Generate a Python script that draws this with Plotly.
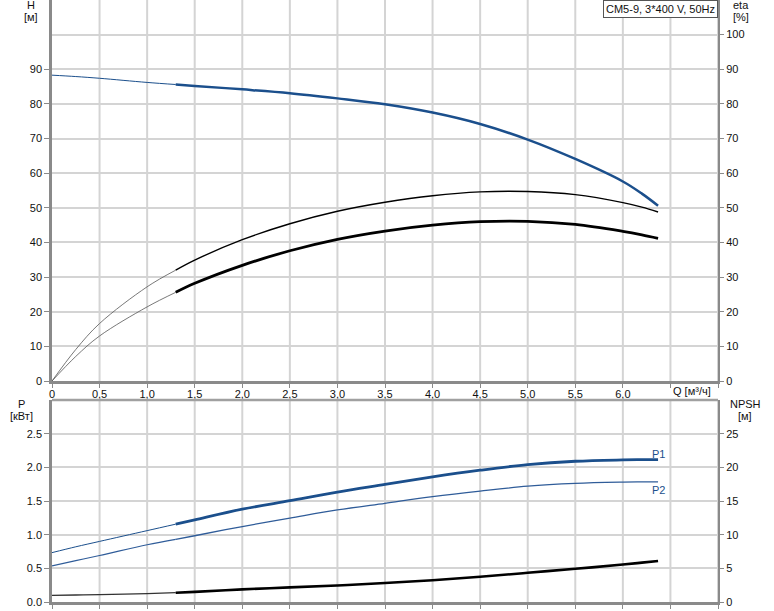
import plotly.graph_objects as go

# ---- data ----
Q = [0, 0.25, 0.5, 1.0, 1.3, 1.5, 2.0, 2.5, 3.0, 3.5, 4.0, 4.5, 5.0, 5.5, 6.0, 6.2, 6.37]
H = [88.3, 87.9, 87.4, 86.2, 85.6, 85.2, 84.2, 83.1, 81.6, 79.9, 77.5, 74.2, 69.7, 64.1, 57.6, 54.1, 50.6]
ETA_UP = [0, 9.1, 16.6, 27.2, 32.0, 34.9, 40.8, 45.4, 49.0, 51.6, 53.5, 54.6, 54.7, 53.8, 51.5, 50.2, 48.8]
ETA_LO = [0, 7.1, 13.0, 21.4, 25.6, 28.2, 33.4, 37.6, 40.9, 43.3, 45.0, 46.0, 46.1, 45.2, 43.2, 42.2, 41.2]
P1 = [0.733, 0.82, 0.90, 1.06, 1.156, 1.22, 1.378, 1.505, 1.633, 1.746, 1.858, 1.957, 2.04, 2.09, 2.11, 2.114, 2.115]
P2 = [0.537, 0.615, 0.69, 0.851, 0.93, 0.984, 1.121, 1.245, 1.367, 1.466, 1.564, 1.647, 1.72, 1.761, 1.78, 1.784, 1.785]
NPSH = [0.99, 1.04, 1.1, 1.25, 1.38, 1.5, 1.87, 2.17, 2.45, 2.82, 3.24, 3.74, 4.34, 4.93, 5.56, 5.85, 6.1]
SPLIT = 4  # index of Q = 1.3 where the curves become bold

Q_TICKS = [0, 0.5, 1.0, 1.5, 2.0, 2.5, 3.0, 3.5, 4.0, 4.5, 5.0, 5.5, 6.0, 6.5, 7.0]
Q_LABELS = ["0", "0,5", "1,0", "1,5", "2,0", "2,5", "3,0", "3,5", "4,0", "4,5", "5,0", "5,5", "6,0", "", ""]
H_TICKS = [0, 10, 20, 30, 40, 50, 60, 70, 80, 90]
ETA_TICKS = [0, 10, 20, 30, 40, 50, 60, 70, 80, 90, 100]
P_TICKS = [0, 0.5, 1.0, 1.5, 2.0, 2.5]
NPSH_TICKS = [0, 5, 10, 15, 20, 25]
TITLE_BOX = "CM5-9, 3*400 V, 50Hz"

BLUE = "#1b4f8c"
BLUE2 = "#2f5c99"
BLACK = "#000000"
GRID = "#d4d4d4"
AXIS = "#8a8a8a"
FONT = dict(family="Liberation Sans, Arial, sans-serif", size=11, color="#111111")

W, H_PX = 774, 611
ML, MR, MT, MB = 52, 56, 0, 9
PW, PH = W - ML - MR, H_PX - MT - MB


def pp(x, y):
    return (x - ML) / PW, 1 - (y - MT) / PH


fig = go.Figure()


def add_curve(y, xa, ya, color, thin_w, thick_w, thin_color=None):
    fig.add_trace(go.Scatter(x=Q[:SPLIT + 1], y=y[:SPLIT + 1], xaxis=xa, yaxis=ya, mode="lines",
                             line=dict(color=thin_color or color, width=thin_w, shape="spline", smoothing=1.0),
                             hoverinfo="skip"))
    fig.add_trace(go.Scatter(x=Q[SPLIT:], y=y[SPLIT:], xaxis=xa, yaxis=ya, mode="lines",
                             line=dict(color=color, width=thick_w, shape="spline", smoothing=1.0),
                             hoverinfo="skip"))


add_curve(H, "x", "y", BLUE, 1, 2.5)
add_curve(ETA_UP, "x", "y2", BLACK, 0.8, 1.4, "#555555")
add_curve(ETA_LO, "x", "y2", BLACK, 0.8, 2.8, "#555555")
add_curve(P1, "x2", "y3", BLUE, 1, 2.8)
add_curve(P2, "x2", "y3", BLUE2, 1.1, 1.3)
add_curve(NPSH, "x2", "y4", BLACK, 1.3, 2.6, "#333333")

top_dom = [pp(0, 381)[1], 1]
bot_dom = [0, pp(0, 400)[1]]

xcommon = dict(range=[0, 7], tickvals=Q_TICKS, showgrid=False,
               zeroline=False, showline=True, linecolor=AXIS, linewidth=2.5, automargin=False,
               ticks="outside", ticklen=4, tickcolor=AXIS, tickfont=FONT)
ycommon = dict(zeroline=False, showline=True, linecolor=AXIS, ticks="outside", tickcolor=AXIS,
               tickfont=FONT, automargin=False)

fig.update_layout(
    width=W, height=H_PX,
    margin=dict(l=ML, r=MR, t=MT, b=MB, autoexpand=False),
    paper_bgcolor="white", plot_bgcolor="white",
    showlegend=False, font=FONT,
    xaxis=dict(**xcommon, domain=[0, 1], anchor="y", ticktext=Q_LABELS, ticklabelstandoff=-3),
    yaxis=dict(**ycommon, domain=top_dom, anchor="x", range=[0, 110], tickvals=H_TICKS,
               showgrid=True, gridcolor=GRID, gridwidth=2, linewidth=2.5, ticklen=5,
               minor=dict(tickvals=[100], showgrid=True, gridcolor=GRID, gridwidth=2, ticks="")),
    yaxis2=dict(**ycommon, domain=top_dom, overlaying="y", side="right", anchor="x", range=[0, 110],
                tickvals=ETA_TICKS, showgrid=False, linewidth=2, ticklen=4),
    xaxis2=dict(**xcommon, domain=[0, 1], anchor="y3", showticklabels=False),
    yaxis3=dict(**ycommon, domain=bot_dom, anchor="x2", range=[0, 3], tickvals=P_TICKS, tickformat=".1f",
                showgrid=True, gridcolor=GRID, gridwidth=2, linewidth=2.5, ticklen=5),
    yaxis4=dict(**ycommon, domain=bot_dom, overlaying="y3", side="right", anchor="x2", range=[0, 30],
                tickvals=NPSH_TICKS, showgrid=False, linewidth=2, ticklen=4),
)

# vertical grid lines, placed through each panel's own x scale and clipped to its domain
for qv in Q_TICKS[1:]:
    fig.add_shape(type="line", xref="x", yref="y domain", x0=qv, x1=qv, y0=0, y1=1,
                  line=dict(color=GRID, width=2), layer="below")
    fig.add_shape(type="line", xref="x2", yref="y3 domain", x0=qv, x1=qv, y0=0, y1=1,
                  line=dict(color=GRID, width=2), layer="below")
# top frame of the lower panel
fig.add_shape(type="line", xref="x2 domain", yref="y3 domain", x0=0, x1=1, y0=1, y1=1,
              line=dict(color="#a0a0a0", width=2.5), layer="above")


def label(text, xpx, ypx, xanchor="center", **kw):
    x, y = pp(xpx, ypx)
    fig.add_annotation(text=text, x=x, y=y, xref="paper", yref="paper", showarrow=False,
                       xanchor=xanchor, yanchor="middle", font=FONT, **kw)


label("H", 31, 5)
label("[м]", 31, 17)
label("eta", 741, 5)
label("[%]", 741, 17)
label("P", 21, 404)
label("[кВт]", 21, 416)
label("NPSH", 745, 404)
label("[м]", 745, 416)
label("Q [м³/ч]", 713, 391, xanchor="right")

# curve labels placed at data positions
fig.add_annotation(text="P1", x=Q[-1], y=2.20, xref="x2", yref="y3", showarrow=False,
                   font=dict(family=FONT["family"], size=11, color=BLUE))
fig.add_annotation(text="P2", x=Q[-1], y=1.67, xref="x2", yref="y3", showarrow=False,
                   font=dict(family=FONT["family"], size=11, color=BLUE))

fig.add_annotation(text=TITLE_BOX, x=1, y=1, xref="paper", yref="paper", showarrow=False,
                   xanchor="right", yanchor="top", font=FONT, bgcolor="white",
                   bordercolor="#555555", borderwidth=1, borderpad=2)

fig.write_html("out.html", config={"displayModeBar": False},
               post_script="document.body.style.margin='0';")
